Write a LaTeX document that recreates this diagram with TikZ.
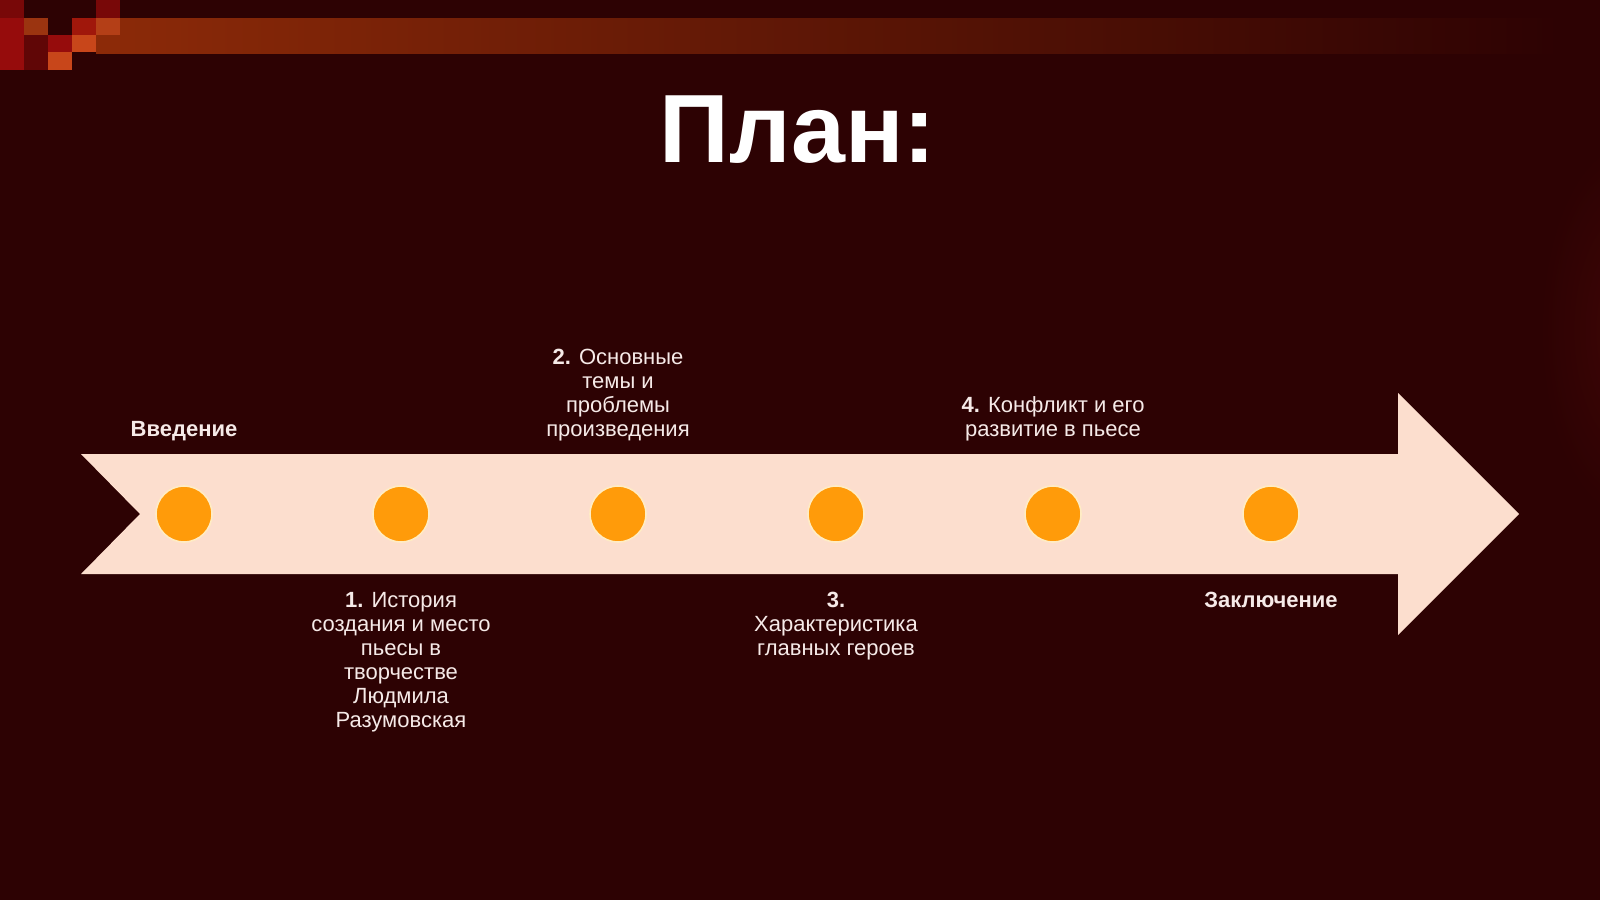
\documentclass[tikz,border=0pt]{standalone}
\usepackage{fontspec}
\setmainfont{Liberation Sans}
\usepackage{array}
\definecolor{bg}{RGB}{45,2,3}
\definecolor{glow}{RGB}{62,6,6}
\definecolor{arrowfill}{RGB}{252,222,206}
\definecolor{dotfill}{RGB}{255,155,10}
\definecolor{dotring}{RGB}{255,236,196}
\definecolor{txt}{RGB}{246,234,232}
\definecolor{bandA}{RGB}{140,42,8}
\definecolor{bandB}{RGB}{96,22,7}
\definecolor{sqred}{RGB}{150,12,12}
\definecolor{sqdred}{RGB}{120,8,8}
\definecolor{sqorange}{RGB}{200,70,26}
\definecolor{sqbrown}{RGB}{155,52,16}
\tikzset{
  dot/.style={circle, minimum size=56pt, inner sep=0pt, fill=dotfill, draw=dotring, line width=1.6pt},
  lbl/.style={anchor=base, inner sep=0pt, text=txt, font=\fontsize{22}{24}\selectfont},
  boldlbl/.style={lbl, font=\fontsize{22}{24}\selectfont\bfseries},
  titlestyle/.style={anchor=base, inner sep=0pt, text=white, font=\fontsize{97}{100}\selectfont\bfseries}
}
\newcommand{\lblt}[1]{\setlength{\tabcolsep}{0pt}\renewcommand{\arraystretch}{1}\begin{tabular}[t]{c}#1\end{tabular}}
\newcommand{\lblb}[1]{\setlength{\tabcolsep}{0pt}\renewcommand{\arraystretch}{1}\begin{tabular}[b]{c}#1\end{tabular}}
\begin{document}
\begin{tikzpicture}[x=1pt,y=-1pt]
\useasboundingbox (0,0) rectangle (1600,900);
\fill[bg] (0,0) rectangle (1600,900);
% faint red glow on right edge
\begin{scope}
\clip (0,0) rectangle (1600,900);
\shade[inner color=glow, outer color=bg, draw=none] (1630,330) ellipse [x radius=90, y radius=190];
\end{scope}
% top band
\shade[left color=bandA, middle color=bandB, right color=bg, draw=none] (96,18) rectangle (1560,53);
% pixel squares top left
\fill[sqdred] (0,0) rectangle (24,18);
\fill[sqred] (0,18) rectangle (24,70);
\fill[sqbrown] (24,18) rectangle (48,35);
\fill[sqdred!80!black] (24,35) rectangle (48,70);
\fill[sqred] (48,35) rectangle (72,52);
\fill[sqorange] (48,52) rectangle (72,70);
\fill[sqred!90!orange] (72,18) rectangle (96,35);
\fill[sqorange] (72,35) rectangle (96,52);
\fill[sqdred] (96,0) rectangle (120,18);
\fill[sqorange!90!black] (96,18) rectangle (120,35);
\fill[bandA] (96,35) rectangle (120,52);
% title
\node[titlestyle] (title) at (798,162) {План:};
% arrow
\fill[arrowfill] (81,454) -- (1398,454) -- (1398,393) -- (1519,514) -- (1398,635) -- (1398,574) -- (81,574) -- (140,514) -- cycle;
% dots
\node[dot] (c0) at (184,514) {};
\node[dot] (c1) at (401,514) {};
\node[dot] (c2) at (618,514) {};
\node[dot] (c3) at (836,514) {};
\node[dot] (c4) at (1053,514) {};
\node[dot] (c5) at (1271,514) {};
% labels
\node[boldlbl] (l0) at (184,436) {Введение};
\node[lbl] (l1) at (401,607) {\lblt{\textbf{1.} История\\создания и место\\пьесы в\\творчестве\\Людмила\\Разумовская}};
\node[lbl] (l2) at (618,436) {\lblb{\textbf{2.} Основные\\темы и\\проблемы\\произведения}};
\node[lbl] (l3) at (836,607) {\lblt{\textbf{3.}\\Характеристика\\главных героев}};
\node[lbl] (l4) at (1053,436) {\lblb{\textbf{4.} Конфликт и его\\развитие в пьесе}};
\node[boldlbl] (l5) at (1271,607) {Заключение};
\end{tikzpicture}
\end{document}
